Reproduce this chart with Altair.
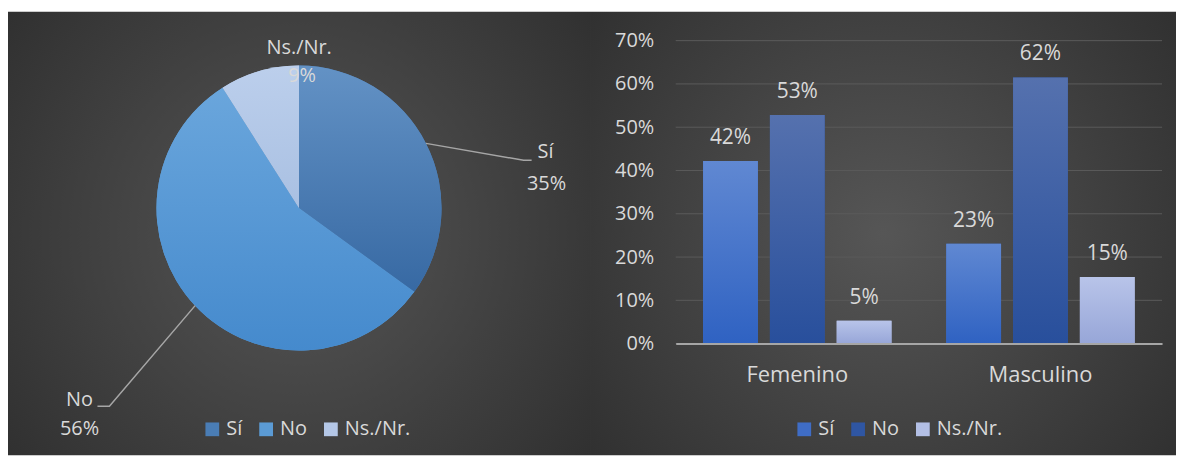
import math
import altair as alt
import pandas as pd

# ---------------- data ----------------
pie_cats = ["Sí", "No", "Ns./Nr."]
pie_vals = [35, 56, 9]
pie_colors = ["#4a7db5", "#5b9bd5", "#b4c7e7"]

genders = ["Femenino", "Masculino"]
series = ["Sí", "No", "Ns./Nr."]
vals_si = [0.422, 0.231]
vals_no = [0.528, 0.615]
vals_ns = [0.053, 0.154]
bar_colors = ["#3f6dc6", "#2f56a3", "#b3bfe5"]
y_ticks = [0, 0.1, 0.2, 0.3, 0.4, 0.5, 0.6, 0.7]

# ---------------- layout / style ----------------
FONT = "Open Sans"
TXT = "#d9d9d9"
BG_EDGE = "#2b2b2b"
PIE_W, PIE_H = 584, 400
R = 143
BAR_W, BAR_H = 488, 336
BAR_LEFT_EXT = 86
PX_PER_UNIT = 434.3
TOTAL_H = 448
TOP_GAP = 3


def lin(top, bottom):
    return {
        "gradient": "linear", "x1": 0, "y1": 0, "x2": 0, "y2": 1,
        "stops": [{"offset": 0, "color": top}, {"offset": 1, "color": bottom}],
    }


def bg_gradient():
    return {
        "gradient": "radial",
        "x1": 0.5, "y1": 0.5, "x2": 0.5, "y2": 0.5,
        "r1": 0, "r2": 0.72,
        "stops": [
            {"offset": 0, "color": "#565656"},
            {"offset": 1, "color": BG_EDGE},
        ],
    }


pie_grads = {
    "Sí": lin("#6392c5", "#3769a3"),
    "No": lin("#6aa6dc", "#458acd"),
    "Ns./Nr.": lin("#bccfec", "#a9c0e2"),
}
bar_grads = {
    "Sí": lin("#6088d2", "#2f62c2"),
    "No": lin("#5571ae", "#284f9c"),
    "Ns./Nr.": lin("#b8c4e9", "#97a6d8"),
}

one = pd.DataFrame({"a": [0]})


def make_legend(x):
    return alt.Legend(
        title=None, orient="none", legendX=x, legendY=412,
        direction="horizontal", symbolType="square", symbolSize=190,
        symbolStrokeWidth=0, labelFontSize=20, labelColor=TXT, labelFont=FONT,
        columnPadding=13, labelOffset=4, zindex=1,
    )


# ---------------- pie panel ----------------
pie_df = pd.DataFrame({"cat": pie_cats, "val": pie_vals, "idx": range(len(pie_cats))})
total = sum(pie_vals)

cx, cy = PIE_W / 2, PIE_H / 2
cum = 0
edges = {}
for c, v in zip(pie_cats, pie_vals):
    mid = (cum + v / 2) / total * 2 * math.pi
    edges[c] = (cx + R * math.sin(mid), cy - R * math.cos(mid))
    cum += v

pct = {c: f"{round(v / total * 100)}%" for c, v in zip(pie_cats, pie_vals)}
# label offsets (layout) from the slice edge point
label_off = {
    "Sí": ((120, 9), (121, 41)),
    "No": ((-116, 95), (-116, 124)),
    "Ns./Nr.": ((40, -23), (43, 5)),
}
leader_off = {
    "Sí": [(0, 0), (98, 17), (106, 17)],
    "No": [(0, 0), (-86, 101), (-98, 101)],
}

txt_rows = []
for c in pie_cats:
    ex, ey = edges[c]
    (nx, ny), (px_, py_) = label_off[c]
    txt_rows.append({"t": c, "px": ex + nx, "py": ey + ny})
    txt_rows.append({"t": pct[c], "px": ex + px_, "py": ey + py_})
txt_df = pd.DataFrame(txt_rows)

lead_rows = []
for c, pts in leader_off.items():
    ex, ey = edges[c]
    for i, (dx, dy) in enumerate(pts):
        lead_rows.append({"cat": c, "seq": i, "px": ex + dx, "py": ey + dy})
lead_df = pd.DataFrame(lead_rows)

xpix = alt.Scale(domain=[0, PIE_W], nice=False, zero=False)
ypix = alt.Scale(domain=[0, PIE_H], nice=False, zero=False, reverse=True)
theta_scale = alt.Scale(domain=[0, total], range=[0, 2 * math.pi], zero=True, nice=False)

pie_bg = alt.Chart(one).mark_rect(fill=bg_gradient()).encode(
    x=alt.value(0), x2=alt.value(PIE_W), y=alt.value(TOP_GAP), y2=alt.value(TOTAL_H)
)

arcs = alt.Chart(pie_df).mark_arc(outerRadius=R).encode(
    theta=alt.Theta("val:Q", stack=True, scale=theta_scale),
    order=alt.Order("idx:O"),
    color=alt.Color(
        "cat:N",
        scale=alt.Scale(domain=pie_cats, range=pie_colors),
        sort=pie_cats,
        legend=make_legend(195),
    ),
)

pie_base = (
    alt.Chart(pie_df)
    .transform_window(end="sum(val)", sort=[alt.SortField("idx")], frame=[None, 0])
    .transform_calculate(start="datum.end - datum.val")
)
arc_over = [
    pie_base.transform_filter(alt.datum.cat == c)
    .mark_arc(outerRadius=R, fill=pie_grads[c])
    .encode(theta=alt.Theta("start:Q", scale=theta_scale), theta2="end:Q")
    for c in pie_cats
]

leaders = alt.Chart(lead_df).mark_line(color="#a6a6a6", strokeWidth=1.5).encode(
    x=alt.X("px:Q", scale=xpix, axis=None),
    y=alt.Y("py:Q", scale=ypix, axis=None),
    detail="cat:N",
    order="seq:O",
)

pie_text = alt.Chart(txt_df).mark_text(
    fontSize=20, font=FONT, color=TXT, align="center", baseline="middle"
).encode(
    x=alt.X("px:Q", scale=xpix, axis=None),
    y=alt.Y("py:Q", scale=ypix, axis=None),
    text="t:N",
)

pie_panel = alt.layer(pie_bg, arcs, *arc_over, leaders, pie_text).properties(
    width=PIE_W, height=PIE_H
)

# ---------------- bar panel ----------------
rows = []
for i, g in enumerate(genders):
    for s, arr in zip(series, [vals_si, vals_no, vals_ns]):
        rows.append({"g": g, "s": s, "v": arr[i]})
bar_df = pd.DataFrame(rows)

ymax = BAR_H / PX_PER_UNIT
yscale = alt.Scale(domain=[0, ymax], nice=False, zero=True)
yaxis = alt.Axis(
    title=None, values=y_ticks, format=".0%", grid=False, ticks=False, domain=False,
    labelFontSize=20, labelFont=FONT, labelColor=TXT, labelPadding=22, zindex=1,
)

bar_bg = alt.Chart(one).mark_rect(fill=bg_gradient()).encode(
    x=alt.value(-BAR_LEFT_EXT), x2=alt.value(BAR_W + 14),
    y=alt.value(TOP_GAP), y2=alt.value(TOTAL_H),
)

grid = alt.Chart(pd.DataFrame({"v": y_ticks})).mark_rule(color="#5a5a5a", strokeWidth=1).encode(
    y=alt.Y("v:Q", scale=yscale, axis=yaxis),
    x=alt.value(0), x2=alt.value(BAR_W),
)

xenc = alt.X(
    "g:N", sort=genders, scale=alt.Scale(paddingInner=0, paddingOuter=0),
    axis=alt.Axis(
        title=None, labelAngle=0, ticks=False, grid=False, domainColor="#a6a6a6",
        domainWidth=2, labelFontSize=22, labelFont=FONT, labelColor=TXT,
        labelPadding=21, zindex=1,
    ),
)
xoff = alt.XOffset("s:N", sort=series, scale=alt.Scale(paddingInner=0.18, paddingOuter=0.41))
yenc = alt.Y("v:Q", scale=yscale, axis=yaxis)

bars = alt.Chart(bar_df).mark_bar().encode(
    x=xenc, xOffset=xoff, y=yenc,
    color=alt.Color(
        "s:N", scale=alt.Scale(domain=series, range=bar_colors), sort=series,
        legend=make_legend(119),
    ),
)

bar_over = [
    alt.Chart(bar_df).transform_filter(alt.datum.s == s)
    .mark_bar(fill=bar_grads[s])
    .encode(x=xenc, xOffset=xoff, y=yenc)
    for s in series
]

bar_text = alt.Chart(bar_df).mark_text(
    fontSize=21, font=FONT, color=TXT, baseline="bottom", dy=-13
).encode(
    x=xenc, xOffset=xoff, y=yenc,
    text=alt.Text("v:Q", format=".0%"),
)

bar_panel = alt.layer(bar_bg, grid, bars, *bar_over, bar_text).properties(
    width=BAR_W, height=BAR_H
)

chart = (
    alt.hconcat(pie_panel, bar_panel, spacing=0)
    .resolve_scale(color="independent")
    .properties(background="white", padding=0)
    .configure_view(stroke=None)
)

chart.save("out.html", embed_options={"renderer": "svg", "actions": False})
